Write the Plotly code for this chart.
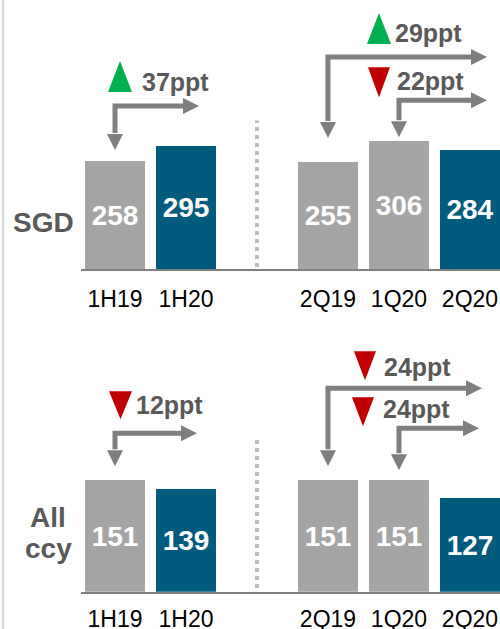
import plotly.graph_objects as go

# ---------------- data ----------------
half_labels = ["1H19", "1H20"]
quarter_labels = ["2Q19", "1Q20", "2Q20"]
categories = half_labels + quarter_labels
sgd_values = [258, 295, 255, 306, 284]
allccy_values = [151, 139, 151, 151, 127]
row_names = ["SGD", "All ccy"]
sgd_changes = ["37ppt", "29ppt", "22ppt"]
sgd_dirs = ["up", "up", "down"]
allccy_changes = ["12ppt", "24ppt", "24ppt"]
allccy_dirs = ["down", "down", "down"]

# ---------------- styles ----------------
GRAY = "#a5a5a5"
BLUE = "#015b7e"
ARROW = "#7f7f7f"
TEXT = "#595959"
GREEN = "#00b050"
RED = "#c00000"
FONT = "Arial, Liberation Sans, sans-serif"
bar_colors = [GRAY, BLUE, GRAY, GRAY, BLUE]

# slot positions: half-year group, empty slot, quarter group
slots = list(range(len(half_labels))) + [len(half_labels) + 1 + i for i in range(len(quarter_labels))]
sep_slot = len(half_labels)

W, H = 500, 629
fig = go.Figure()

for vals, xa, ya in [(sgd_values, "x", "y"), (allccy_values, "x2", "y2")]:
    fig.add_trace(go.Bar(
        x=slots, y=vals, xaxis=xa, yaxis=ya,
        marker=dict(color=bar_colors, line=dict(width=0)),
        width=0.845,
        text=[str(v) for v in vals], textposition="inside", insidetextanchor="middle",
        textangle=0,
        textfont=dict(family=FONT, size=28, color="white", weight="bold"),
        hoverinfo="skip", showlegend=False,
    ))

x_range = [-0.479, 5.423]
x_dom = [81 / W, 1.0]
axis_common = dict(range=x_range, domain=x_dom, tickmode="array", tickvals=slots,
                   ticktext=categories, showline=True, linecolor="#808080", linewidth=2,
                   showgrid=False, zeroline=False, ticks="",
                   automargin=False,
                   tickfont=dict(family=FONT, size=23, color="#000000"), fixedrange=True)

fig.update_layout(
    width=W, height=H, autosize=False, margin=dict(l=0, r=0, t=0, b=0, autoexpand=False),
    paper_bgcolor="white", plot_bgcolor="white",
    bargap=0,
    xaxis=dict(anchor="y", ticklabelstandoff=8, **axis_common),
    xaxis2=dict(anchor="y2", ticklabelstandoff=6, **axis_common),
    yaxis=dict(domain=[(H - 269) / H, 1.0], range=[0, 269 / 0.418], visible=False,
               automargin=False, fixedrange=True),
    yaxis2=dict(domain=[(H - 591.7) / H, (H - 330) / H], range=[0, (591.7 - 330) / 0.74],
                visible=False, automargin=False, fixedrange=True),
)

shapes = []
annotations = []

# left light border line
shapes.append(dict(type="line", xref="paper", yref="paper", x0=3 / W, x1=3 / W, y0=0, y1=1,
                   line=dict(color="#d9d9d9", width=2.5)))

# dotted separators
shapes.append(dict(type="line", xref="x", yref="y", x0=sep_slot, x1=sep_slot, y0=5, y1=355,
                   line=dict(color="#bfbfbf", width=4, dash="dot")))
shapes.append(dict(type="line", xref="x2", yref="y2", x0=sep_slot, x1=sep_slot, y0=5, y1=205,
                   line=dict(color="#bfbfbf", width=4, dash="dot")))

HL, HW = 16, 8  # arrow head length / half width (px)


def elbow(xr, yr, slot, corner_val, drop, run, direction, label, tri, text_left, text_up):
    base = dict(xref=xr, yref=yr, xsizemode="pixel", ysizemode="pixel",
                xanchor=slot, yanchor=corner_val)
    # elbow line
    shapes.append(dict(type="path", **base,
                       path=f"M 0,{-(drop - HL - 1)} L 0,0 L {run - HL + 1},0",
                       line=dict(color=ARROW, width=5), fillcolor="rgba(0,0,0,0)"))
    # heads
    shapes.append(dict(type="path", **base,
                       path=f"M {-HW},{-(drop - HL)} L {HW},{-(drop - HL)} L 0,{-drop} Z",
                       line=dict(width=0), fillcolor=ARROW))
    shapes.append(dict(type="path", **base,
                       path=f"M {run - HL},{HW} L {run - HL},{-HW} L {run},0 Z",
                       line=dict(width=0), fillcolor=ARROW))
    # indicator triangle
    x0, x1, yb, yt = tri
    xm = (x0 + x1) / 2
    if direction == "up":
        p = f"M {x0},{yb} L {x1},{yb} L {xm},{yt} Z"
        col = GREEN
    else:
        p = f"M {x0},{yt} L {x1},{yt} L {xm},{yb} Z"
        col = RED
    shapes.append(dict(type="path", **base, path=p, line=dict(width=0), fillcolor=col))
    annotations.append(dict(xref=xr, yref=yr, x=slot, y=corner_val, xshift=text_left,
                            yshift=text_up, xanchor="left", yanchor="middle", showarrow=False,
                            text=label, font=dict(family=FONT, size=25, color=TEXT, weight="bold")))


# SGD row
elbow("x", "y", slots[0], 390, 44, 84, sgd_dirs[0], sgd_changes[0], (-7, 17, 14, 45), 25, 24)
elbow("x", "y", slots[2], 507, 81, 159, sgd_dirs[1], sgd_changes[1], (39, 63, 13, 44), 65, 24)
elbow("x", "y", slots[3], 404, 37, 88, sgd_dirs[2], sgd_changes[2], (-31, -9, 3, 33), -4, 19)
# All ccy row
elbow("x2", "y2", slots[0], 214, 33, 82, allccy_dirs[0], allccy_changes[0], (-6, 17, 14, 42), 19, 28)
elbow("x2", "y2", slots[2], 275, 78, 154, allccy_dirs[1], allccy_changes[1], (26, 48, 8, 37), 54, 21)
elbow("x2", "y2", slots[3], 221, 42, 80, allccy_dirs[2], allccy_changes[2], (-47, -25, 2, 31), -18, 19)

# row labels
row_font = dict(family=FONT, size=28, color=TEXT, weight="bold")
annotations.append(dict(xref="paper", yref="paper", x=43.5 / W, y=1 - 222 / H, text=row_names[0],
                        showarrow=False, xanchor="center", yanchor="middle", font=row_font))
for i, part in enumerate(row_names[1].split(" ")):
    annotations.append(dict(xref="paper", yref="paper", x=48 / W, y=1 - (517 + 31 * i) / H,
                            text=part, showarrow=False, xanchor="center", yanchor="middle",
                            font=row_font))

fig.update_layout(shapes=shapes, annotations=annotations)
fig.write_html(
    "out.html",
    config={"displayModeBar": False, "responsive": False},
    post_script="document.body.style.margin='0';document.body.style.overflow='hidden';"
                "document.documentElement.style.overflow='hidden';",
)
